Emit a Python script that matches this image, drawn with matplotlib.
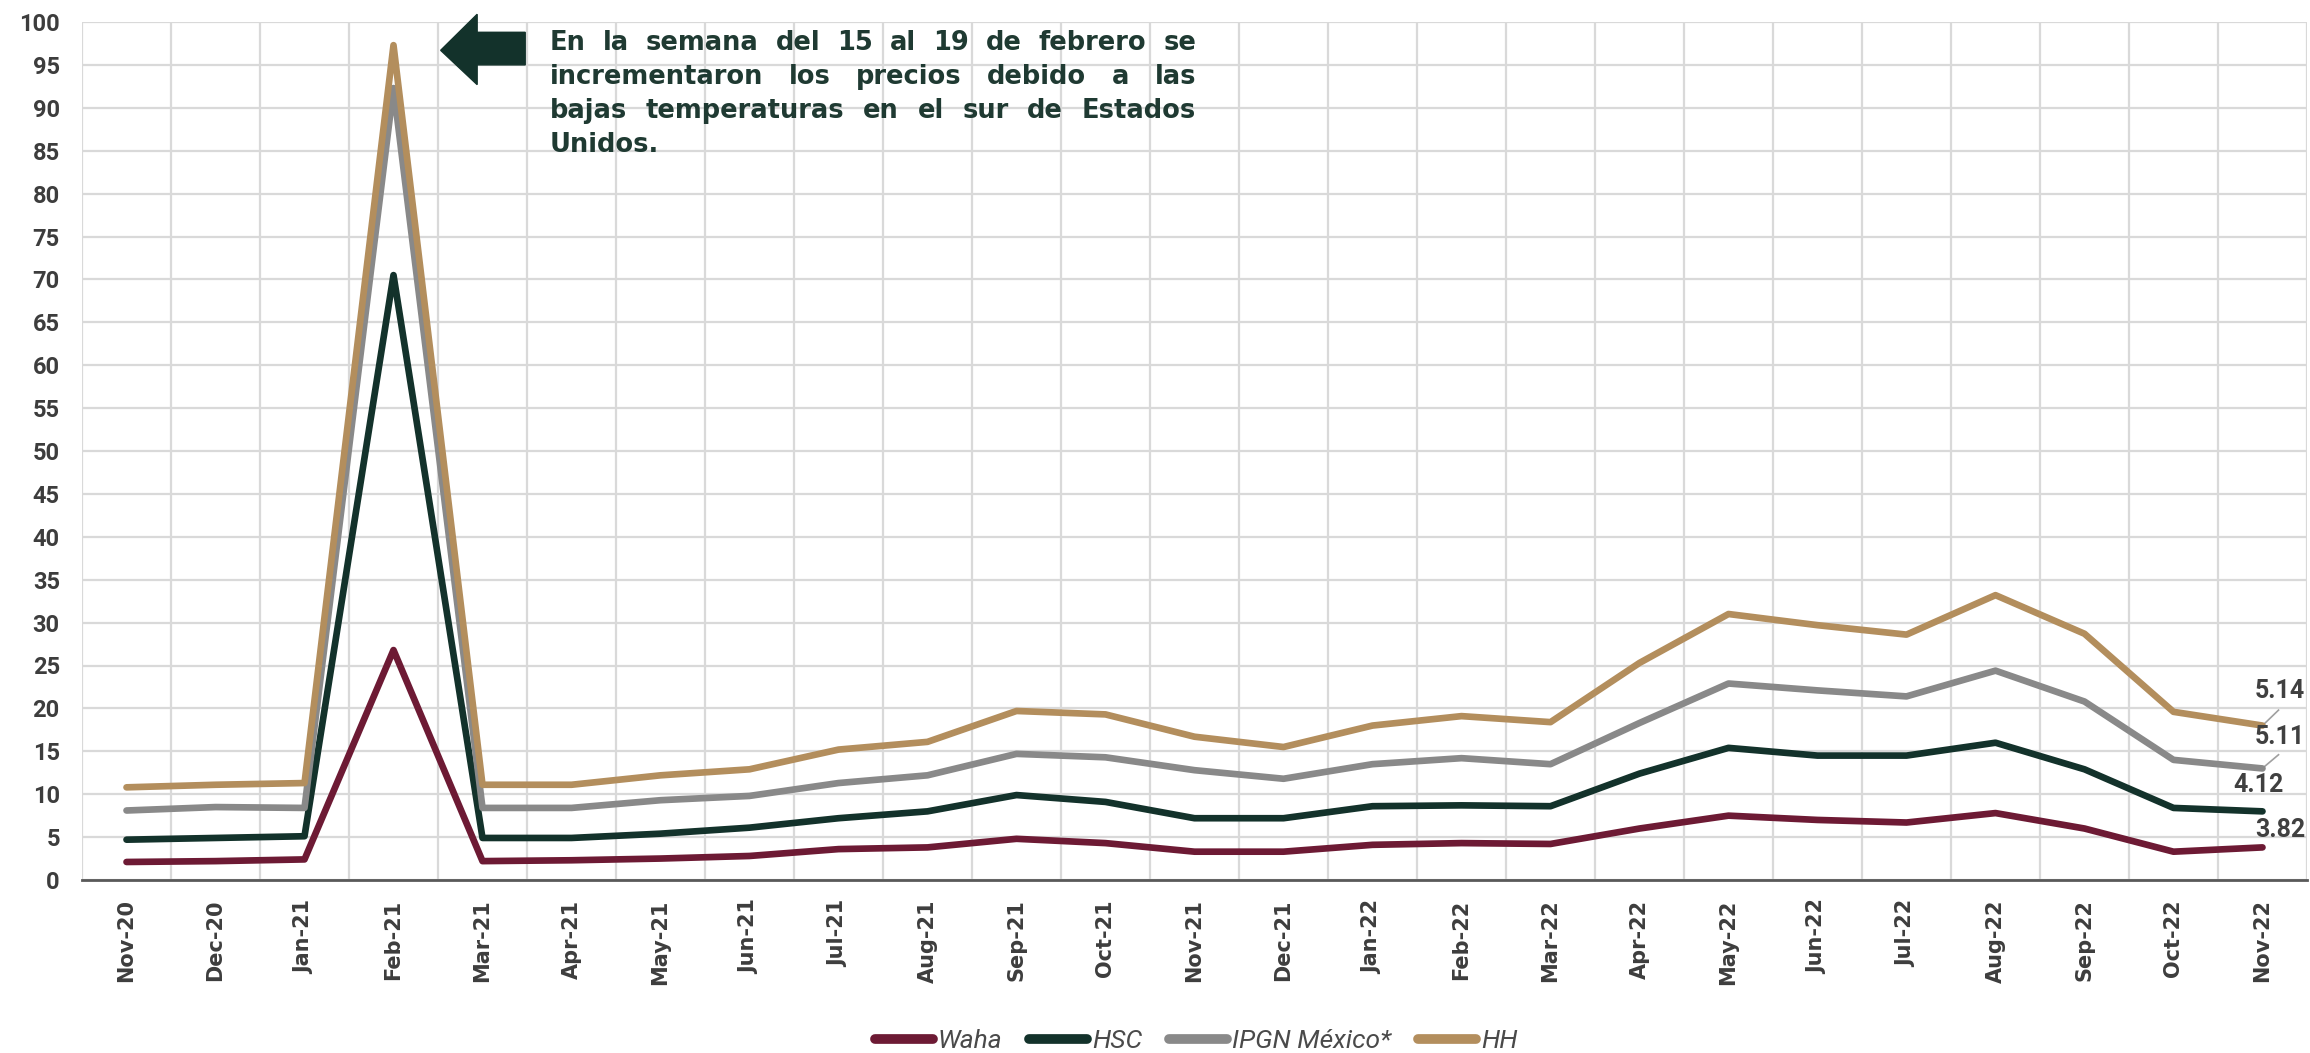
import numpy as np
import matplotlib.pyplot as plt
from matplotlib.patches import Polygon
from matplotlib.lines import Line2D

# Datos (precios mensuales)
meses = ['Nov-20', 'Dec-20', 'Jan-21', 'Feb-21', 'Mar-21', 'Apr-21', 'May-21', 'Jun-21',
         'Jul-21', 'Aug-21', 'Sep-21', 'Oct-21', 'Nov-21', 'Dec-21', 'Jan-22', 'Feb-22',
         'Mar-22', 'Apr-22', 'May-22', 'Jun-22', 'Jul-22', 'Aug-22', 'Sep-22', 'Oct-22', 'Nov-22']
waha = [2.1, 2.2, 2.4, 26.8, 2.2, 2.3, 2.5, 2.8, 3.6, 3.8, 4.8, 4.3, 3.3,
        3.3, 4.1, 4.3, 4.2, 6.0, 7.5, 7.0, 6.7, 7.8, 6.0, 3.3, 3.8]
hsc = [4.7, 4.9, 5.1, 70.5, 4.9, 4.9, 5.4, 6.1, 7.2, 8.0, 9.9, 9.1, 7.2,
       7.2, 8.6, 8.7, 8.6, 12.4, 15.4, 14.5, 14.5, 16.0, 12.9, 8.4, 8.0]
ipgn = [8.1, 8.5, 8.4, 92.3, 8.4, 8.4, 9.3, 9.8, 11.3, 12.2, 14.7, 14.3, 12.8,
        11.8, 13.5, 14.2, 13.5, 18.3, 22.9, 22.1, 21.4, 24.4, 20.8, 14.0, 13.0]
hh = [10.8, 11.1, 11.3, 97.3, 11.1, 11.1, 12.2, 12.9, 15.2, 16.1, 19.7, 19.3, 16.7,
      15.5, 18.0, 19.1, 18.4, 25.3, 31.0, 29.7, 28.6, 33.2, 28.7, 19.6, 18.0]
series_names = ['Waha', 'HSC', 'IPGN México*', 'HH']
colores = ['#6d1a34', '#13322b', '#898989', '#b38e5d']
etiquetas_fin = ['5.14', '5.11', '4.12', '3.82']

nota = ["En la semana del 15 al 19 de febrero se",
        "incrementaron los precios debido a las",
        "bajas temperaturas en el sur de Estados",
        "Unidos."]

W, H = 2310, 1053
fig = plt.figure(figsize=(W / 100, H / 100), dpi=100)
ax = fig.add_axes([82 / W, 1 - 880 / H, (2307 - 82) / W, (880 - 22) / H])

x = np.arange(len(meses))
for serie, nombre, c in zip([waha, hsc, ipgn, hh], series_names, colores):
    ax.plot(x, serie, color=c, lw=4.8, label=nombre, zorder=3,
            solid_joinstyle='round', solid_capstyle='round')

ax.set_xlim(-0.5, len(meses) - 0.5)
ax.set_ylim(0, 100)
ax.set_yticks(np.arange(0, 101, 5))
ax.set_xticks(x)
ax.set_xticklabels(meses, rotation=90, fontsize=15, fontweight='bold', color='#3d3d3d')
ax.set_xticks(np.arange(-0.5, len(meses), 1), minor=True)
for lab in ax.get_yticklabels():
    lab.set_fontsize(17)
    lab.set_fontweight('bold')
    lab.set_family('Roboto')
    lab.set_color('#3d3d3d')
ax.tick_params(axis='both', which='both', length=0)
ax.tick_params(axis='x', pad=14)
ax.tick_params(axis='y', pad=16)
ax.grid(axis='y', which='major', color='#d9d9d9', lw=1.6)
ax.grid(axis='x', which='minor', color='#d9d9d9', lw=1.6)
ax.set_axisbelow(True)
for s in ['top', 'right', 'left']:
    ax.spines[s].set_visible(False)
ax.spines['bottom'].set_color('#595959')
ax.spines['bottom'].set_linewidth(2)

# etiquetas finales con guias
ult = len(meses) - 1
kw = dict(ha='center', va='center', fontsize=18, fontweight='bold', family='Roboto',
          color='#404040', clip_on=False)
ax.text(ult + 0.2, 22.0, etiquetas_fin[0], **kw)
ax.plot([ult + 0.02, ult + 0.18], [hh[-1] + 0.2, hh[-1] + 1.8], color='#a0a0a0', lw=1.2)
ax.text(ult + 0.2, 16.7, etiquetas_fin[1], **kw)
ax.plot([ult + 0.02, ult + 0.18], [ipgn[-1] + 0.2, ipgn[-1] + 1.6], color='#a0a0a0', lw=1.2)
ax.text(ult - 0.05, 11.1, etiquetas_fin[2], **kw)
ax.text(ult + 0.2, 5.8, etiquetas_fin[3], **kw)

# flecha
flecha = Polygon([[3.53, 96.7], [3.94, 100.9], [3.94, 98.8], [4.48, 98.8],
                  [4.48, 95.0], [3.94, 95.0], [3.94, 92.7]],
                 closed=True, color='#13322b', clip_on=False, zorder=4)
ax.add_patch(flecha)

# texto justificado
renderer = fig.canvas.get_renderer()
x0, x1 = 550, 1196
ys = [43, 77, 111, 145]
for i, linea in enumerate(nota):
    palabras = linea.split()
    objs = []
    for p in palabras:
        t = fig.text(0, 0, p, fontsize=18.5, fontweight='bold', family='DejaVu Sans',
                     color='#1f3a32', va='center', ha='left')
        objs.append(t)
    anchos = [t.get_window_extent(renderer).width for t in objs]
    if i < len(nota) - 1 and len(objs) > 1:
        gap = (x1 - x0 - sum(anchos)) / (len(objs) - 1)
    else:
        gap = 7
    pos = x0
    for t, w in zip(objs, anchos):
        t.set_position((pos / W, 1 - ys[i] / H))
        pos += w + gap

handles = [Line2D([0], [0], color=c, lw=7, solid_capstyle='round') for c in colores]
leg = fig.legend(handles, series_names, loc='center', bbox_to_anchor=(1196 / W, 1 - 1041 / H),
                 ncol=4, frameon=False, handlelength=2.2, columnspacing=1.0, handletextpad=0.2,
                 prop={'family': 'Roboto', 'style': 'italic', 'size': 19})
for t in leg.get_texts():
    t.set_color('#4a4a4a')

fig.savefig('out.png', dpi=100)
